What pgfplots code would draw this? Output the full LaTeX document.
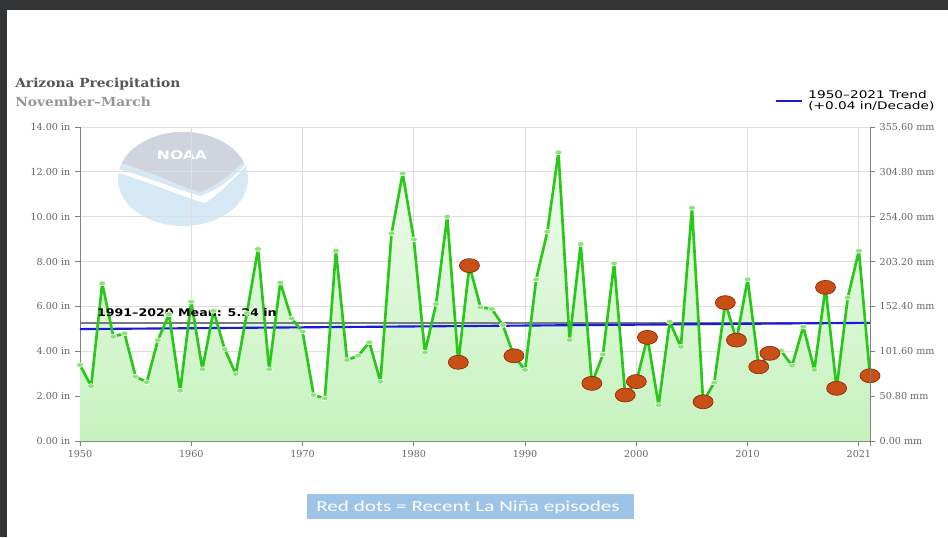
\documentclass[border=0pt]{standalone}
\usepackage{fontspec}
\setmainfont{DejaVu Sans}
\newfontfamily\serifF{DejaVu Serif}
\newfontfamily\calib{Carlito}
\usepackage{pgfplots}
\pgfplotsset{compat=1.18}
\definecolor{darkstrip}{RGB}{51,52,54}
\definecolor{titlegray}{RGB}{85,85,85}
\definecolor{subgray}{RGB}{150,150,150}
\definecolor{tickgray}{RGB}{102,102,102}
\definecolor{linegreen}{RGB}{40,200,25}
\definecolor{fillbot}{RGB}{198,242,190}
\definecolor{filltop}{RGB}{240,251,238}
\definecolor{mkgreen}{RGB}{140,228,120}
\definecolor{redfill}{RGB}{200,80,20}
\definecolor{reddraw}{RGB}{140,40,10}
\definecolor{trendblue}{RGB}{25,25,225}
\definecolor{meangray}{RGB}{120,120,130}
\definecolor{boxblue}{RGB}{157,195,230}
\definecolor{logoblue}{RGB}{214,232,244}
\definecolor{logogray}{RGB}{208,212,222}
\definecolor{gridgray}{RGB}{222,222,222}

\pgfplotstableread{
year val
1950 3.39
1951 2.45
1952 7.03
1953 4.65
1954 4.80
1955 2.87
1956 2.62
1957 4.50
1958 5.65
1959 2.24
1960 6.21
1961 3.20
1962 5.80
1963 4.10
1964 2.99
1965 5.70
1966 8.56
1967 3.20
1968 7.06
1969 5.47
1970 4.88
1971 2.05
1972 1.90
1973 8.48
1974 3.61
1975 3.80
1976 4.40
1977 2.65
1978 9.26
1979 11.93
1980 8.99
1981 3.95
1982 6.11
1983 10.00
1984 3.51
1985 7.82
1986 5.96
1987 5.89
1988 5.17
1989 3.80
1990 3.17
1991 7.21
1992 9.33
1993 12.87
1994 4.50
1995 8.78
1996 2.57
1997 3.86
1998 7.92
1999 2.05
2000 2.65
2001 4.62
2002 1.60
2003 5.32
2004 4.20
2005 10.40
2006 1.75
2007 2.60
2008 6.17
2009 4.50
2010 7.21
2011 3.31
2012 3.91
2013 4.03
2014 3.36
2015 5.10
2016 3.17
2017 6.85
2018 2.35
2019 6.39
2020 8.48
2021 2.91
}\precip

\pgfplotstableread{
year val
1984 3.51
1985 7.82
1989 3.80
1996 2.57
1999 2.05
2000 2.65
2001 4.62
2006 1.75
2008 6.17
2009 4.50
2011 3.31
2012 3.91
2017 6.85
2018 2.35
2021 2.91
}\lanina

\begin{document}
\begin{tikzpicture}
\begin{scope}[x=0.75pt,y=-0.75pt]
\path[use as bounding box] (0,0) rectangle (948,537);
\fill[white] (0,0) rectangle (948,537);
\fill[darkstrip] (0,0) rectangle (948,10);
\fill[darkstrip] (0,0) rectangle (7,537);
% titles
\node[anchor=base west,inner sep=0,text=titlegray,xscale=1.1] at (15,87)
  {\serifF\bfseries\fontsize{9.4pt}{11pt}\selectfont Arizona Precipitation};
\node[anchor=base west,inner sep=0,text=subgray,xscale=1.1] at (15,106)
  {\serifF\bfseries\fontsize{9.4pt}{11pt}\selectfont November–March};
% legend
\draw[trendblue,line width=1.5pt] (776,101) -- (802,101);
\node[anchor=base west,inner sep=0,xscale=1.3] at (808,98)
  {\fontsize{7.9pt}{9pt}\selectfont 1950–2021 Trend};
\node[anchor=base west,inner sep=0,xscale=1.3] at (808,109)
  {\fontsize{7.9pt}{9pt}\selectfont (+0.04 in/Decade)};
% NOAA logo
\begin{scope}
\clip (183,179) ellipse [x radius=65, y radius=47];
\fill[logoblue] (183,179) ellipse [x radius=65, y radius=47];
\fill[logogray] (110,125) -- (110,160) .. controls (150,170) and (175,185) .. (200,192)
   .. controls (220,185) and (240,165) .. (256,150) -- (256,125) -- cycle;
\fill[white] (115,168) .. controls (150,178) and (178,190) .. (200,196)
   .. controls (225,188) and (240,170) .. (252,158)
   .. controls (238,175) and (222,192) .. (205,203)
   .. controls (180,196) and (150,182) .. (115,172) -- cycle;
\end{scope}
\node[text=white,inner sep=0,xscale=1.3] at (182,155) {\bfseries\fontsize{9pt}{10pt}\selectfont NOAA};
\end{scope}

\begin{axis}[
  at={(60pt,-330.75pt)}, anchor=south west,
  scale only axis, width=592.5pt, height=235.5pt,
  xmin=1950, xmax=2021, ymin=0, ymax=14,
  axis x line*=bottom, axis y line*=left,
  axis line style={color=gray, line width=0.6pt, -},
  xtick={1950,1960,1970,1980,1990,2000,2010,2020,2021},
  xticklabels={1950,1960,1970,1980,1990,2000,2010,2021,{}},
  ytick={0,2,4,6,8,10,12,14},
  yticklabels={0.00 in,2.00 in,4.00 in,6.00 in,8.00 in,10.00 in,12.00 in,14.00 in},
  tick align=outside, major tick length=3.75pt,
  tick style={color=gray, line width=0.6pt},
  ticklabel style={font=\serifF\fontsize{7.2pt}{8pt}\selectfont, text=tickgray},
  xticklabel style={yshift=0pt},
  grid=major, major grid style={color=gridgray, line width=0.6pt},
  clip=false,
]
\addplot[draw=none, top color=filltop, bottom color=fillbot, forget plot]
  table[x=year,y=val] {\precip} \closedcycle;
\addplot[meangray, line width=1.5pt, forget plot] coordinates {(1950,5.24) (2021,5.24)};
\addplot[trendblue, line width=1.6pt, forget plot] coordinates {(1950,4.99) (2021,5.27)};
\addplot[linegreen, line width=2pt, line join=round, mark=*, mark size=1.8pt,
  mark options={fill=mkgreen, draw=white, line width=0.4pt, xscale=1.5}]
  table[x=year,y=val] {\precip};
\addplot[only marks, mark=*, mark size=5.25pt,
  mark options={fill=redfill, draw=reddraw, line width=0.5pt, xscale=1.43}]
  table[x=year,y=val] {\lanina};
\node[anchor=base west, inner sep=0, xscale=1.2] at (axis cs:1951.5,5.54)
  {\bfseries\fontsize{7.9pt}{9pt}\selectfont 1991–2020 Mean: 5.24 in};
\end{axis}

\begin{axis}[
  at={(60pt,-330.75pt)}, anchor=south west,
  scale only axis, width=592.5pt, height=235.5pt,
  xmin=1950, xmax=2021, ymin=0, ymax=14,
  axis y line*=right, axis x line=none,
  axis line style={color=gray, line width=0.6pt, -},
  ytick={0,2,4,6,8,10,12,14},
  yticklabels={0.00 mm,50.80 mm,101.60 mm,152.40 mm,203.20 mm,254.00 mm,304.80 mm,355.60 mm},
  tick align=outside, major tick length=3.75pt,
  tick style={color=gray, line width=0.6pt},
  ticklabel style={font=\serifF\fontsize{7.2pt}{8pt}\selectfont, text=tickgray},
]
\addplot[draw=none] coordinates {(1950,0)};
\end{axis}

\begin{scope}[x=0.75pt,y=-0.75pt]
\fill[boxblue] (307,494) rectangle (634,519);
\node[text=white,inner sep=0,xscale=1.38] at (468,507)
  {\calib\fontsize{11.5pt}{13pt}\selectfont Red dots = Recent La Niña episodes};
\end{scope}
\end{tikzpicture}
\end{document}
